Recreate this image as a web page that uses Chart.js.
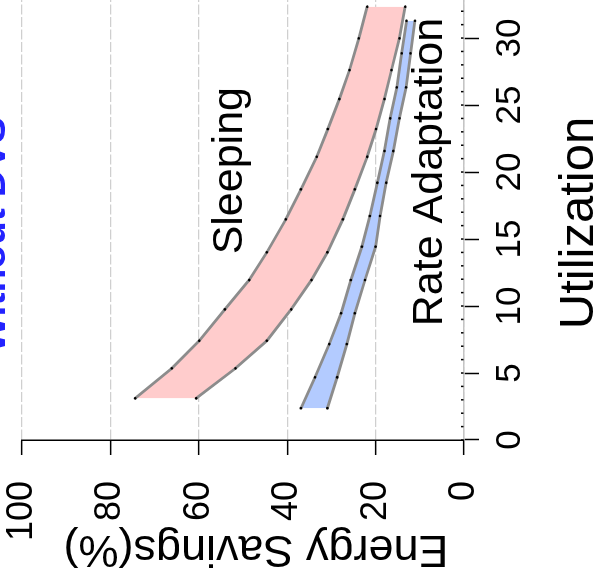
<!DOCTYPE html>
<html>
<head>
<meta charset="utf-8">
<script src="https://cdn.jsdelivr.net/npm/chart.js@4.4.1/dist/chart.umd.min.js"></script>
<style>
  html, body { margin: 0; padding: 0; background: #fff; overflow: hidden; }
  /* the figure is drawn upright, then turned a quarter turn to the left */
  #wrap {
    position: absolute; left: 0; top: 0; width: 580px; height: 595px;
    transform-origin: 0 0; transform: translate(0, 580px) rotate(-90deg);
  }
</style>
</head>
<body>
<div id="wrap"><canvas id="savingsChart" width="580" height="595"></canvas></div>
<script>
// Sleeping band: utilization (%) and the two bounding energy savings curves
const sleepUtil = [3.11, 5.35, 7.41, 9.75, 11.94, 14.01, 16.47, 18.71, 21.14, 23.21, 25.45, 27.61, 29.98, 32.34];
const sleepHigh = [74.4, 66.1, 59.9, 54.1, 48.6, 44.6, 40.3, 36.9, 33.3, 30.8, 28.2, 25.9, 23.8, 21.9];
const sleepLow = [60.6, 51.7, 44.6, 39.1, 34.5, 30.9, 27.4, 24.7, 21.9, 19.9, 18.0, 16.4, 14.6, 13.3];

// Rate adaptation band
const rateUtil = [2.37, 4.68, 7.16, 9.46, 11.94, 14.43, 16.72, 19.2, 21.57, 24.01, 26.32, 28.86, 31.29];
const rateHigh = [36.9, 33.7, 30.5, 27.8, 25.6, 23.1, 21.3, 19.6, 18.0, 16.7, 15.2, 14.1, 13.0];
const rateLow = [30.9, 28.7, 26.5, 24.7, 22.4, 20.0, 19.0, 17.6, 16.0, 14.6, 13.1, 12.1, 11.1];

const utilTicks = [0, 5, 10, 15, 20, 25, 30];
const savingTicks = [0, 20, 40, 60, 80, 100];
const minorUtilTicks = [...Array(33).keys()];

const FONT = '"Liberation Sans", Arial, Helvetica, sans-serif';

function toPoints(xs, ys) {
    return xs.map((x, i) => ({ x: x, y: ys[i] }));
}

function bandLine(data, fillColor, fillTarget) {
    return {
        data: data,
        borderColor: "#8c8c8c",
        borderWidth: 2.8,
        backgroundColor: fillColor,
        fill: fillTarget,
        pointRadius: 1.3,
        pointBackgroundColor: "#000",
        pointBorderWidth: 0,
        tension: 0
    };
}

// axis titles, panel title, band labels and the small utilization ticks
const decorations = {
    id: "decorations",
    afterDraw(chart) {
        const { ctx, chartArea, scales: { x, y } } = chart;
        ctx.save();

        ctx.strokeStyle = "#000";
        ctx.lineWidth = 1.5;
        minorUtilTicks.forEach(u => {
            const px = x.getPixelForValue(u);
            ctx.beginPath();
            ctx.moveTo(px, chartArea.bottom - 3);
            ctx.lineTo(px, chartArea.bottom - 0.5);
            ctx.stroke();
        });

        ctx.fillStyle = "#000";
        ctx.textAlign = "center";
        ctx.textBaseline = "alphabetic";
        ctx.font = "43px " + FONT;
        ctx.fillText("Sleeping", x.getPixelForValue(20.1), y.getPixelForValue(50.2));
        ctx.fillText("Rate Adaptation", x.getPixelForValue(20.0), y.getPixelForValue(5.0));

        ctx.font = "49px " + FONT;
        ctx.fillText("Utilization", 357, 593);

        ctx.save();
        ctx.translate(44, 256);
        ctx.rotate(-Math.PI / 2);
        ctx.font = "45px " + FONT;
        ctx.fillText("Energy Savings(%)", 0, 0);
        ctx.restore();

        ctx.fillStyle = "#2323ff";
        ctx.font = "bold 39px " + FONT;
        ctx.fillText("Without DVS", 345, 5);

        ctx.restore();
    }
};

document.addEventListener("DOMContentLoaded", () => {
    const ctx = document.getElementById("savingsChart").getContext("2d");

    new Chart(ctx, {
        type: "line",
        data: {
            datasets: [
                bandLine(toPoints(sleepUtil, sleepHigh), "#ffcccc", "+1"),
                bandLine(toPoints(sleepUtil, sleepLow), "#ffcccc", false),
                bandLine(toPoints(rateUtil, rateHigh), "#b3cbff", "+1"),
                bandLine(toPoints(rateUtil, rateLow), "#b3cbff", false)
            ]
        },
        options: {
            responsive: false,
            animation: false,
            events: [],
            layout: { padding: { top: 22, left: 0, right: 0, bottom: 0 }, autoPadding: false },
            plugins: {
                legend: { display: false },
                tooltip: { enabled: false },
                title: { display: false },
                filler: { drawTime: "beforeDatasetsDraw" }
            },
            scales: {
                x: {
                    type: "linear",
                    min: 0,
                    max: 32.84,
                    afterFit: scale => {
                        scale.height = 131;
                        scale.paddingLeft = 0;
                        scale.paddingRight = 0;
                    },
                    afterBuildTicks: scale => { scale.ticks = utilTicks.map(v => ({ value: v })); },
                    ticks: { font: { family: FONT, size: 35 }, color: "#000", padding: 10, maxRotation: 0, autoSkip: false },
                    grid: { drawOnChartArea: false, drawTicks: true, tickLength: 15, tickColor: "#000", tickWidth: 1.5 },
                    border: { display: true, color: "#c4c4c4", width: 1.5 }
                },
                y: {
                    type: "linear",
                    min: 0,
                    max: 100,
                    afterFit: scale => {
                        scale.width = 140;
                        scale.paddingTop = 0;
                        scale.paddingBottom = 0;
                    },
                    afterBuildTicks: scale => { scale.ticks = savingTicks.map(v => ({ value: v })); },
                    ticks: { font: { family: FONT, size: 36 }, color: "#000", padding: 26 },
                    grid: { color: "#cfcfcf", lineWidth: 1.3, drawTicks: true, tickLength: 15, tickColor: "#000", tickWidth: 1.5 },
                    border: { display: true, color: "#000", width: 1.5, dash: [10, 2.5] }
                }
            }
        },
        plugins: [decorations]
    });
});
</script>
</body>
</html>
